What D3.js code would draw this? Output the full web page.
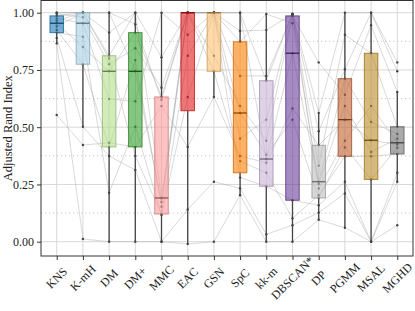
<!DOCTYPE html>
<html>
<head>
<meta charset="utf-8">
<script src="https://cdn.jsdelivr.net/npm/d3@7"></script>
<style>
  body { margin: 0; background: #fff; }
  text { font-family: "Liberation Serif", "DejaVu Serif", serif; }
</style>
</head>
<body>
<script>

// methods along the x axis
var methods = ["KNS", "K-mH", "DM", "DM+", "MMC", "EAC", "GSN", "SpC", "kk-m", "DBSCAN*", "DP", "PGMM", "MSAL", "MGHD"];

// ARI of each method on the 13 data sets (same data set order in every array)
var ariKNS    = [1.0, 1.0, 0.995, 0.986, 0.975, 0.965, 0.954, 0.94, 0.925, 0.913, 0.89, 0.866, 0.553];
var ariKmH    = [1.0, 1.0, 0.98, 1.0, 0.954, 1.0, 0.85, 1.0, 0.775, 0.895, 0.502, 0.012, 0.422];
var ariDM     = [0.913, 1.0, 0.775, 0.812, 0.623, 1.0, 0.744, 0.8, 0.414, 0.214, 0.374, 0.0, 0.432];
var ariDMp    = [1.0, 0.95, 0.845, 1.0, 0.613, 0.744, 0.913, 0.374, 0.793, 0.502, 0.313, 0.0, 0.414];
var ariMMC    = [0.805, 0.62, 0.672, 0.191, 1.0, 0.173, 0.632, 0.121, 0.153, 0.117, 0.0, 0.0, 0.593];
var ariEAC    = [1.0, 1.0, 1.0, 1.0, 0.904, 1.0, 1.0, 0.812, 1.0, 0.632, 0.141, -0.01, 0.414];
var ariGSN    = [1.0, 1.0, 1.0, 0.812, 1.0, 1.0, 1.0, 1.0, 0.744, 1.0, 0.262, 0.0, 0.632];
var ariSpC    = [0.92, 1.0, 0.724, 0.593, 0.873, 0.45, 1.0, 0.562, 0.352, 0.28, 0.233, 0.203, 0.374];
var ariKKM    = [0.924, 0.703, 0.724, 0.441, 0.994, 0.533, 0.361, 0.38, 0.301, 0.242, 0.032, 0.0, 0.345];
var ariDBSCAN = [0.994, 0.994, 0.994, 0.986, 0.954, 0.994, 0.823, 0.533, 0.102, 0.181, 0.072, 0.0, 0.582];
var ariDP     = [0.562, 0.482, 0.332, 0.783, 0.262, 0.232, 0.252, 0.191, 0.203, 0.159, 0.127, 0.096, 0.421];
var ariPGMM   = [1.0, 0.753, 0.904, 0.642, 0.712, 0.441, 0.593, 0.412, 0.373, 0.262, 0.211, 0.061, 0.533];
var ariMSAL   = [1.0, 1.0, 0.823, 0.945, 0.523, 0.593, 0.392, 0.272, 0.373, 0.0, 0.0, 0.0, 0.443];
var ariMGHD   = [0.783, 0.744, 0.502, 0.654, 0.47, 0.432, 0.45, 0.41, 0.383, 0.301, 0.262, 0.072, 0.425];

var scores = [ariKNS, ariKmH, ariDM, ariDMp, ariMMC, ariEAC, ariGSN, ariSpC, ariKKM, ariDBSCAN, ariDP, ariPGMM, ariMSAL, ariMGHD];

// box plot summary per method
var q1s       = [0.913, 0.775, 0.414, 0.414, 0.121, 0.572, 0.744, 0.301, 0.242, 0.181, 0.191, 0.373, 0.272, 0.383];
var medians   = [0.954, 0.954, 0.744, 0.744, 0.191, 1.0, 1.0, 0.562, 0.361, 0.823, 0.262, 0.533, 0.443, 0.432];
var q3s       = [0.986, 1.0, 0.812, 0.913, 0.632, 1.0, 1.0, 0.873, 0.703, 0.986, 0.421, 0.712, 0.823, 0.502];
var whiskerLo = [0.866, 0.502, 0.0, 0.0, 0.0, -0.01, 0.632, 0.203, 0.0, 0.0, 0.096, 0.061, 0.0, 0.262];
var whiskerHi = [1.0, 1.0, 1.0, 1.0, 1.0, 1.0, 1.0, 1.0, 0.994, 0.994, 0.562, 1.0, 1.0, 0.654];

var yTicks = [0, 0.25, 0.5, 0.75, 1.0];
var yMinor = [0.125, 0.375, 0.625, 0.875];

var colors = ["#1f78b4", "#a6cee3", "#b2df8a", "#33a02c", "#fb9a99", "#e31a1c", "#fdbf6f",
              "#ff7f00", "#cab2d6", "#6a3d9a", "#bcbcbc", "#c0612f", "#bb8a26", "#717171"];


var width = 415, height = 311;
var plotLeft = 41, plotRight = 413, plotTop = 0.5, plotBottom = 256;

var svg = d3.select("body").append("svg")
            .attr("width", width)
            .attr("height", height);

var x = d3.scalePoint().domain(methods).range([plotLeft, plotRight]).padding(0.6);
var y = d3.scaleLinear().domain([0, 1]).range([241.7, 12.7]);
var bw = 13.5;

// grid
var grid = svg.append("g");
grid.selectAll(".vg").data(methods).join("line")
    .attr("x1", d => x(d)).attr("x2", d => x(d))
    .attr("y1", plotTop).attr("y2", plotBottom)
    .attr("stroke", "#d8d8d8").attr("stroke-width", 1);
grid.selectAll(".hg").data(yTicks).join("line")
    .attr("x1", plotLeft).attr("x2", plotRight)
    .attr("y1", d => y(d)).attr("y2", d => y(d))
    .attr("stroke", "#d8d8d8").attr("stroke-width", 1);
grid.selectAll(".mg").data(yMinor).join("line")
    .attr("x1", plotLeft).attr("x2", plotRight)
    .attr("y1", d => y(d)).attr("y2", d => y(d))
    .attr("stroke", "#b8b8b8").attr("stroke-width", 0.8)
    .attr("stroke-dasharray", "1.2,2.8");

// one line per data set across all methods
var nSets = ariKNS.length;
var line = d3.line().x(d => x(d.m)).y(d => y(d.v));
var sets = d3.range(nSets).map(i => methods.map((m, j) => ({m: m, v: scores[j][i]})));
svg.append("g").selectAll("path").data(sets).join("path")
   .attr("d", line)
   .attr("fill", "none")
   .attr("stroke", "#9a9a9a")
   .attr("stroke-opacity", 0.55)
   .attr("stroke-width", 0.7);

// points
var pts = [];
methods.forEach((m, j) => scores[j].forEach(v => pts.push({m: m, v: v})));
svg.append("g").selectAll("circle").data(pts).join("circle")
   .attr("cx", d => x(d.m)).attr("cy", d => y(d.v))
   .attr("r", 1.2)
   .attr("fill", "#444");

// boxes
var boxes = svg.append("g");
methods.forEach((m, j) => {
    var cx = x(m);
    boxes.append("line")
         .attr("x1", cx).attr("x2", cx)
         .attr("y1", y(q3s[j])).attr("y2", y(whiskerHi[j]))
         .attr("stroke", "#444").attr("stroke-width", 1.3);
    boxes.append("line")
         .attr("x1", cx).attr("x2", cx)
         .attr("y1", y(q1s[j])).attr("y2", y(whiskerLo[j]))
         .attr("stroke", "#444").attr("stroke-width", 1.3);
    boxes.append("rect")
         .attr("x", cx - bw / 2).attr("width", bw)
         .attr("y", y(q3s[j])).attr("height", y(q1s[j]) - y(q3s[j]))
         .attr("fill", colors[j]).attr("fill-opacity", 0.6)
         .attr("stroke", d3.color(colors[j]).darker(0.6)).attr("stroke-opacity", 0.8)
         .attr("stroke-width", 1);
    boxes.append("line")
         .attr("x1", cx - bw / 2).attr("x2", cx + bw / 2)
         .attr("y1", y(medians[j])).attr("y2", y(medians[j]))
         .attr("stroke", d3.color(colors[j]).darker(1.6)).attr("stroke-width", 1.3);
});

// frame
svg.append("rect")
   .attr("x", plotLeft).attr("y", plotTop)
   .attr("width", plotRight - plotLeft).attr("height", plotBottom - plotTop)
   .attr("fill", "none").attr("stroke", "#333").attr("stroke-width", 1);

// axes
var yAxis = svg.append("g")
   .attr("transform", "translate(" + plotLeft + ",0)")
   .call(d3.axisLeft(y).tickValues(yTicks).tickFormat(d3.format(".2f")).tickSize(4).tickPadding(3));
yAxis.select(".domain").remove();
yAxis.selectAll("line").attr("stroke", "#333");
yAxis.selectAll("text").attr("font-size", 12).attr("fill", "#222")
     .style("font-family", "'Liberation Serif', serif");

var xAxis = svg.append("g")
   .attr("transform", "translate(0," + plotBottom + ")")
   .call(d3.axisBottom(x).tickSize(4).tickFormat(""));
xAxis.select(".domain").remove();
xAxis.selectAll("line").attr("stroke", "#333");

svg.append("g").selectAll("text").data(methods).join("text")
   .attr("transform", d => "translate(" + x(d) + ",278) rotate(-45)")
   .attr("text-anchor", "middle")
   .attr("dominant-baseline", "central")
   .attr("font-size", 12)
   .attr("fill", "#222")
   .text(d => d);

svg.append("text")
   .attr("transform", "translate(12," + (plotBottom + plotTop) / 2 + ") rotate(-90)")
   .attr("text-anchor", "middle")
   .attr("font-size", 12.5)
   .attr("fill", "#222")
   .text("Adjusted Rand Index");

</script>
</body>
</html>
